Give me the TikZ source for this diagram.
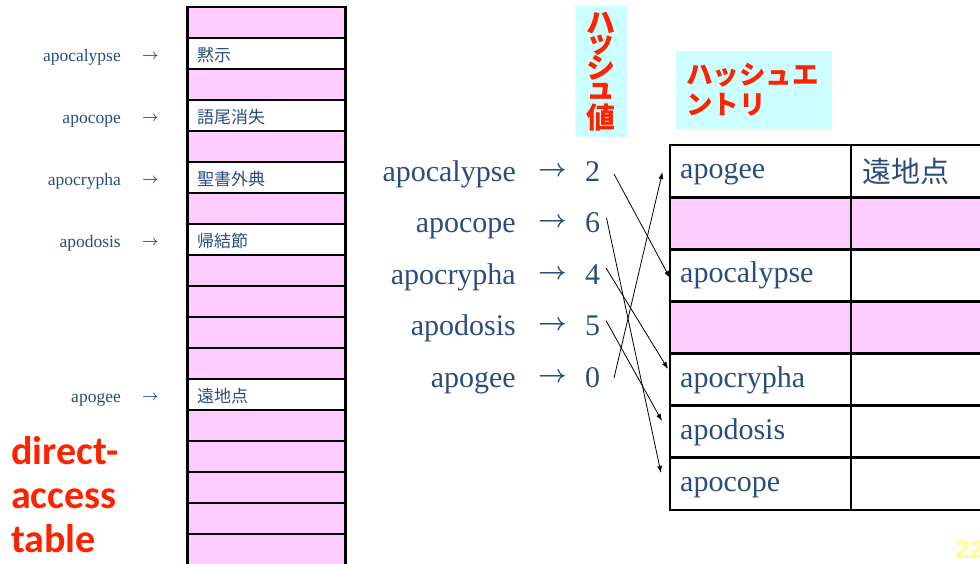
\documentclass[tikz,border=0pt]{standalone}
\usepackage{fontspec}
\setmainfont{Liberation Serif}
\newfontfamily\jpfont{Noto Sans CJK JP}
\newfontfamily\carlitofont{Carlito}
\newfontfamily\arialfont{Liberation Sans}
\usetikzlibrary{arrows.meta}
\definecolor{pinkcell}{HTML}{FFCCFF}
\definecolor{cyanbox}{HTML}{CCFFFF}
\definecolor{txtblue}{HTML}{2B4C7E}
\definecolor{hred}{HTML}{FF2200}
\definecolor{numyellow}{HTML}{FFFF88}
\newcommand{\boldarr}{{\boldmath$\rightarrow$}}
\tikzset{
  smalllbl/.style={inner sep=0, text=txtblue, font=\fontsize{17.5}{20}\selectfont},
  smallarr/.style={inner sep=0, text=txtblue, font=\fontsize{15}{18}\selectfont},
  biglbl/.style={inner sep=0, text=txtblue, font=\fontsize{30}{34}\selectfont},
  bigarr/.style={inner sep=0, text=txtblue, font=\fontsize{24}{28}\selectfont},
  jpsmall/.style={inner sep=0, text=txtblue, font=\jpfont\fontsize{17}{20}\selectfont},
  jpbig/.style={inner sep=0, text=txtblue, font=\jpfont\fontsize{29}{32}\selectfont},
  vchar/.style={inner sep=0, text=hred, font=\jpfont\bfseries\fontsize{29}{30}\selectfont},
  hline/.style={line width=2.2pt},
  vline/.style={line width=3pt},
  rline/.style={line width=2.8pt},
  hasharrow/.style={line width=0.8pt, -{Latex[length=7pt,width=5pt]}},
}
\begin{document}
\begin{tikzpicture}[x=1pt,y=-1pt]
\useasboundingbox (0,0) rectangle (980,563);
\clip (0,0) rectangle (980,563);

% ---------- left direct-access table ----------
\foreach \k in {0,2,4,6,8,9,10,11,13,14,15,16,17}{
  \fill[pinkcell] (187,7.2+31*\k) rectangle (346,7.2+31*\k+31);
}
\foreach \k in {0,...,17}{
  \draw[hline] (187,7.2+31*\k) -- (346,7.2+31*\k);
}
\draw[vline] (187.5,5.8) -- (187.5,570);
\draw[vline] (345.5,5.8) -- (345.5,570);

\node[jpsmall,anchor=west] (lt1) at (197,55.2) {黙示};
\node[jpsmall,anchor=west] (lt3) at (197,117.2) {語尾消失};
\node[jpsmall,anchor=west] (lt5) at (197,179.2) {聖書外典};
\node[jpsmall,anchor=west] (lt7) at (197,241.2) {帰結節};
\node[jpsmall,anchor=west] (lt12) at (197,396.2) {遠地点};

\node[smalllbl,anchor=base east] (lw1) at (121,61.7) {apocalypse};
\node[smalllbl,anchor=base east] (lw3) at (121,123.7) {apocope};
\node[smalllbl,anchor=base east] (lw5) at (121,185.7) {apocrypha};
\node[smalllbl,anchor=base east] (lw7) at (121,247.7) {apodosis};
\node[smalllbl,anchor=base east] (lw12) at (121,402.7) {apogee};
\foreach \b/\n in {61.7/1,123.7/3,185.7/5,247.7/7,402.7/12}{
  \node[smallarr,anchor=base] (la\n) at (150.5,\b-2.7) {\boldarr};
}

\node[anchor=base west, inner sep=0, text=hred,
      font=\carlitofont\bfseries\fontsize{40}{44}\selectfont] (dat) at (11,464)
      {\vtop{\hbox{direct-}\hbox{access}\hbox{table}}};

% ---------- hash values ----------
\node[fill=cyanbox, inner sep=0, minimum width=52.5pt, minimum height=131pt] (hv) at (601,71.5) {};
\node[vchar] (hv1) at (601,23) {ハ};
\node[vchar] (hv2) at (601,45.5) {ッ};
\node[vchar] (hv3) at (601,67.5) {シ};
\node[vchar] (hv4) at (601,91.5) {ュ};
\node[vchar] (hv5) at (601,117.5) {値};

\node[biglbl,anchor=base east] (w0) at (516,181) {apocalypse};
\node[biglbl,anchor=base east] (w1) at (516,232.5) {apocope};
\node[biglbl,anchor=base east] (w2) at (516,284) {apocrypha};
\node[biglbl,anchor=base east] (w3) at (516,335.5) {apodosis};
\node[biglbl,anchor=base east] (w4) at (516,387) {apogee};
\foreach \b/\n in {181/0,232.5/1,284/2,335.5/3,387/4}{
  \node[bigarr,anchor=base] (a\n) at (552.5,\b-5) {\boldarr};
}
\node[biglbl,anchor=base west] (d2) at (585,181) {2};
\node[biglbl,anchor=base west] (d6) at (585,232.5) {6};
\node[biglbl,anchor=base west] (d4) at (585,284) {4};
\node[biglbl,anchor=base west] (d5) at (585,335.5) {5};
\node[biglbl,anchor=base west] (d0) at (585,387) {0};

% ---------- hash entry table ----------
\node[fill=cyanbox, inner sep=0, minimum width=156pt, minimum height=78pt,
      text width=136pt, align=left, text=hred,
      font=\jpfont\bfseries\fontsize{26.5}{30}\selectfont] (he) at (754,90)
      {ハッシュエ\\ントリ};

\foreach \j in {1,3}{
  \fill[pinkcell] (670,145+52.14*\j) rectangle (1000,145+52.14*\j+52.14);
}
\foreach \j in {0,...,7}{
  \draw[rline] (670,145+52.14*\j) -- (1000,145+52.14*\j);
}
\draw[rline] (670,143.6) -- (670,511.4);
\draw[rline] (851,143.6) -- (851,511.4);

\node[biglbl,anchor=base west] (r0) at (680,178.6) {apogee};
\node[jpbig,anchor=west] (r0v) at (862,171) {遠地点};
\node[biglbl,anchor=base west] (r2) at (680,282.9) {apocalypse};
\node[biglbl,anchor=base west] (r4) at (680,387.2) {apocrypha};
\node[biglbl,anchor=base west] (r5) at (680,439.3) {apodosis};
\node[biglbl,anchor=base west] (r6) at (680,491.5) {apocope};

% ---------- arrows ----------
\coordinate (s2) at (614,174);
\coordinate (s6) at (606.5,218);
\coordinate (s4) at (606,268);
\coordinate (s5) at (606,320.5);
\coordinate (s0) at (614,378);
\coordinate (t2) at (670,278);
\coordinate (t6) at (661,473);
\coordinate (t4) at (668,369);
\coordinate (t5) at (662,421);
\coordinate (t0) at (662.5,172);
\draw[hasharrow] (s2) -- (t2);
\draw[hasharrow] (s6) -- (t6);
\draw[hasharrow] (s4) -- (t4);
\draw[hasharrow] (s5) -- (t5);
\draw[hasharrow] (s0) -- (t0);

% ---------- page number ----------
\node[anchor=base west, inner sep=0, text=numyellow,
      font=\arialfont\bfseries\fontsize{25}{28}\selectfont] (pg) at (955.5,558) {22};
\end{tikzpicture}
\end{document}
